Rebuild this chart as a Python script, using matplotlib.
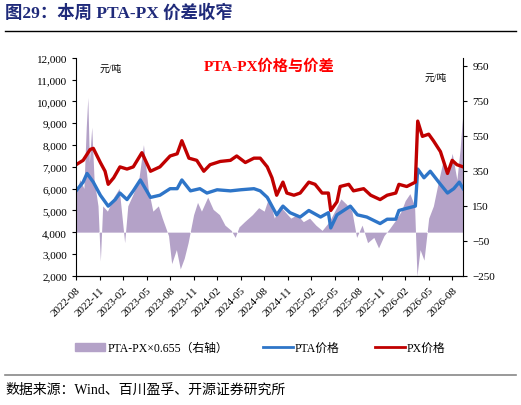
import numpy as np
import matplotlib.pyplot as plt
from matplotlib.lines import Line2D
from matplotlib.patches import Patch

plt.rcParams['font.family'] = ['Liberation Serif', 'Noto Sans CJK SC', 'DejaVu Sans']

# months since 2022-08
px_m = [0, 0.9, 1.8, 2.2, 3.1, 3.7, 4.1, 4.8, 5.6, 6.5, 7.3, 8.4, 9.5, 10.7, 12.0, 12.9, 13.5,
        14.4, 15.4, 16.3, 17.1, 18.4, 19.7, 20.5, 21.6, 22.7, 23.5, 24.4, 25.0, 25.6, 26.4, 26.9,
        27.8, 28.6, 29.7, 30.5, 31.4, 32.2, 32.5, 33.3, 33.7, 34.8, 35.4, 36.7, 37.6, 38.8, 39.7,
        40.8, 41.2, 42.2, 43.3, 43.6, 44.2, 45.0, 45.6, 46.5, 47.4, 48.0, 48.6, 49.4]
px_v = [7100, 7300, 7800, 7850, 7200, 6800, 6200, 6500, 7000, 6900, 7000, 7650, 6800, 7000, 7500,
        7600, 8200, 7400, 7300, 6800, 7100, 7250, 7300, 7500, 7200, 7400, 7400, 7000, 6500, 5700,
        6300, 5800, 5700, 5800, 6300, 6200, 5800, 5800, 5000, 5400, 6100, 6200, 5900, 6000, 5700,
        5500, 5700, 5800, 6200, 6100, 6300, 9100, 8400, 8500, 8200, 7700, 6700, 7300, 7100, 7000]

pta_m = [0, 0.9, 1.4, 2.2, 3.1, 4.1, 5.0, 5.6, 6.5, 7.3, 8.2, 9.5, 10.7, 12.0, 12.9, 13.5, 14.6,
         15.8, 16.7, 18.0, 19.7, 21.0, 22.7, 23.5, 24.4, 25.6, 26.4, 27.3, 28.6, 29.7, 31.2, 32.2,
         32.5, 33.3, 35.0, 35.9, 37.1, 38.8, 39.7, 40.8, 41.2, 42.2, 43.3, 43.6, 44.4, 45.2, 46.5,
         47.4, 48.2, 48.9, 49.4]
pta_v = [5900, 6300, 6700, 6300, 5700, 5200, 5500, 5800, 5500, 5900, 6400, 5600, 5700, 6000, 6000,
         6400, 5900, 6000, 5800, 5950, 5900, 5950, 6000, 5900, 5600, 4800, 5200, 4900, 4700, 5000,
         4700, 4900, 4200, 4800, 5200, 4800, 4700, 4400, 4600, 4600, 5000, 5100, 5200, 6900, 6500,
         6800, 6200, 5800, 6000, 6300, 6000]

spr_m = [0, 0.5, 1, 1.3, 1.5, 1.7, 2.0, 2.3, 2.8, 3.1, 3.4, 4, 4.8, 5.5, 6.2, 6.6, 7.3, 8.0, 8.6,
         9.2, 9.8, 10.5, 11, 11.8, 12.2, 12.8, 13.3, 13.8, 14.3, 15, 15.5, 16, 16.8, 17.5, 18.3, 19,
         19.8, 20.3, 20.8, 21.5, 22.5, 23.3, 24, 24.6, 25.3, 26, 26.6, 27.4, 28.2, 29, 29.8, 30.6,
         31.4, 32.3, 33, 33.8, 34.5, 35.2, 35.8, 36.5, 37.2, 38, 38.6, 39.3, 40, 40.8, 41.5, 42,
         42.6, 43.2, 43.5, 43.9, 44.4, 45, 45.6, 46.2, 46.8, 47.5, 48, 48.6, 49, 49.3, 49.4]
spr_v = [230, 300, 250, 600, 770, 400, 600, 300, 150, -165, 150, 120, 200, 250, -60, 150, 220, 300,
         500, 250, 120, 150, 80, -20, -180, -100, -210, -150, -60, 100, 170, 120, 200, 130, 100, 40,
         10, -30, 30, 60, 100, 140, 120, 200, 80, 150, 120, 80, 100, 60, 80, 40, 10, 60, 120, 190,
         160, 120, -30, 40, -60, -30, -90, -20, 20, 70, 120, 180, 220, 150, -250, -100, -160, 80,
         150, 280, 400, 350, 450, 300, 470, 650, 400]

tick_m = list(range(0, 49, 3))
tick_labels = ['2022-08', '2022-11', '2023-02', '2023-05', '2023-08', '2023-11', '2024-02',
               '2024-05', '2024-08', '2024-11', '2025-02', '2025-05', '2025-08', '2025-11',
               '2026-02', '2026-05', '2026-08']

fig = plt.figure(figsize=(5.21, 4.06), dpi=100)
ax = fig.add_axes([0.146, 0.318, 0.743, 0.537])
ax2 = ax.twinx()
ax.set_zorder(2)
ax.patch.set_visible(False)

ax2.fill_between(spr_m, spr_v, 0, color='#B4A2C8', lw=0)
ax2.set_ylim(-250, 996)
ax2.set_yticks(range(-250, 951, 200))
ax.plot(pta_m, pta_v, color='#2E75C8', lw=2.4)
ax.plot(px_m, px_v, color='#C00000', lw=2.4)
ax.set_ylim(2000, 12000)
ax.set_yticks(range(2000, 12001, 1000))
ax.set_yticklabels([f'{v:,}' for v in range(2000, 12001, 1000)])
ax.set_xlim(0, 49.4)
ax.set_xticks(tick_m)
ax.set_xticklabels(tick_labels, rotation=45, ha='right', rotation_mode='anchor')
for a in (ax, ax2):
    a.tick_params(labelsize=8, length=3)
    a.spines['top'].set_visible(False)
ax.spines['right'].set_visible(False)
ax2.spines['left'].set_visible(False)

ax.text(0.06, 0.94, '元/吨', transform=ax.transAxes, fontsize=7)
ax.text(0.9, 0.9, '元/吨', transform=ax.transAxes, fontsize=7)
ax.text(0.5, 1.0, 'PTA-PX价格与价差', transform=ax.transAxes, ha='center', va='top',
        fontsize=11, color='#FF0000', fontweight='bold')

fig.text(0.01, 0.955, '图29：本周 PTA-PX 价差收窄', fontsize=12.5, fontweight='bold', color='#1F2A7A')
fig.add_artist(Line2D([0.01, 0.99], [0.922, 0.922], color='black', lw=1))
fig.add_artist(Line2D([0.01, 0.99], [0.075, 0.075], color='#888888', lw=1.2))
fig.text(0.01, 0.03, '数据来源：Wind、百川盈孚、开源证券研究所', fontsize=10)

handles = [Patch(color='#B4A2C8'), Line2D([], [], color='#2E75C8', lw=2),
           Line2D([], [], color='#C00000', lw=2)]
fig.legend(handles, ['PTA-PX×0.655（右轴）', 'PTA价格', 'PX价格'], loc='center',
           bbox_to_anchor=(0.5, 0.14), ncol=3, frameon=False, fontsize=8.5,
           handlelength=2.5, handletextpad=0.2, columnspacing=3)

fig.savefig('out.png', dpi=100)
